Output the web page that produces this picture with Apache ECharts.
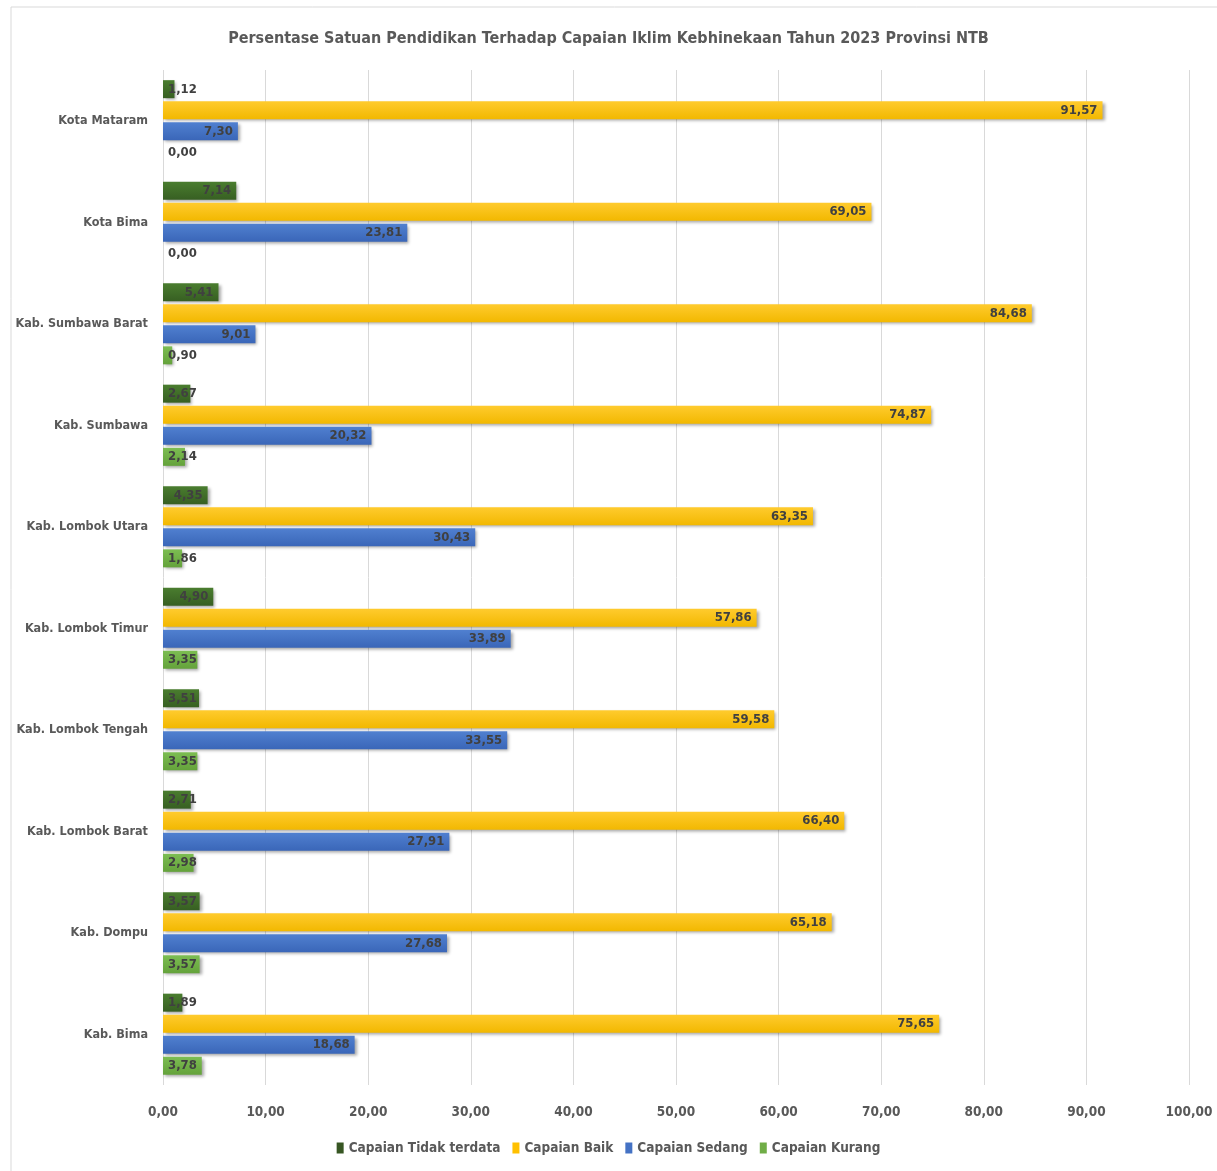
<!DOCTYPE html>
<html><head><meta charset="utf-8">
<script src="https://cdn.jsdelivr.net/npm/echarts@6/dist/echarts.min.js"></script>
<style>html,body{margin:0;padding:0;background:#fff}#c{width:1217px;height:1171px}</style>
</head><body><div id="c"></div>
<script>
const categories = ['Kota Mataram','Kota Bima','Kab. Sumbawa Barat','Kab. Sumbawa','Kab. Lombok Utara','Kab. Lombok Timur','Kab. Lombok Tengah','Kab. Lombok Barat','Kab. Dompu','Kab. Bima'];
const tidakTerdata = [1.12, 7.14, 5.41, 2.67, 4.35, 4.90, 3.51, 2.71, 3.57, 1.89];
const baik = [91.57, 69.05, 84.68, 74.87, 63.35, 57.86, 59.58, 66.40, 65.18, 75.65];
const sedang = [7.30, 23.81, 9.01, 20.32, 30.43, 33.89, 33.55, 27.91, 27.68, 18.68];
const kurang = [0.00, 0.00, 0.90, 2.14, 1.86, 3.35, 3.35, 2.98, 3.57, 3.78];
const seriesNames = ['Capaian Tidak terdata','Capaian Baik','Capaian Sedang','Capaian Kurang'];
const seriesColors = [['#4a7d2f','#375f22'],['#ffcb2e','#f2b800'],['#5080d0','#3a66b8'],['#7cbd52','#64a23b']];
const legendColors = ['#375623','#ffc000','#4472c4','#70ad47'];
const FONT = '"DejaVu Sans Condensed","Liberation Sans Narrow",sans-serif';
const fmt = v => v.toFixed(2).replace('.', ',');

function mk(name, vals, idx){
  return {
    name, type:'bar', barWidth:18, barGap:'17%',
    itemStyle:{
      color:{type:'linear',x:0,y:0,x2:0,y2:1,colorStops:[{offset:0,color:seriesColors[idx][0]},{offset:1,color:seriesColors[idx][1]}]},
      shadowBlur:3, shadowOffsetX:2, shadowOffsetY:2, shadowColor:'rgba(0,0,0,0.35)'
    },
    data: vals.map(v => ({
      value:v,
      label:{position: v < 4 ? 'insideLeft' : 'insideRight', distance: 5}
    })),
    label:{show:true, formatter:p=>fmt(p.value), color:'#404040', fontFamily:FONT, fontWeight:'bold', fontSize:13}
  };
}

const chart = echarts.init(document.getElementById('c'));
chart.setOption({
  animation:false,
  color: legendColors,
  title:{text:'Persentase Satuan Pendidikan Terhadap Capaian Iklim Kebhinekaan Tahun 2023 Provinsi NTB', left:'center', top:26,
    textStyle:{fontFamily:FONT, fontWeight:'bold', fontSize:16, color:'#595959'}},
  graphic:[{type:'rect', shape:{x:11,y:7,width:1230,height:1180}, style:{fill:null, stroke:'#d9d9d9', lineWidth:1}, silent:true}],
  legend:{bottom:11, left:'center', itemWidth:7, itemHeight:11, itemGap:12, icon:'rect',
    textStyle:{fontFamily:FONT, fontWeight:'bold', fontSize:13.5, color:'#595959'},
    data: seriesNames.map((n,i)=>({name:n, itemStyle:{color:legendColors[i]}}))},
  grid:{left:163, right:28, top:70, bottom:86, containLabel:false, outerBoundsMode:'none'},
  xAxis:{type:'value', min:0, max:100, interval:10,
    axisLine:{show:false}, axisTick:{show:false},
    splitLine:{lineStyle:{color:'#d9d9d9'}},
    axisLabel:{formatter:v=>fmt(v), margin:20, fontFamily:FONT, fontWeight:'bold', fontSize:13.5, color:'#595959'}},
  yAxis:{type:'category', data:categories, inverse:true,
    axisLine:{show:false}, axisTick:{show:false},
    axisLabel:{margin:15, fontFamily:FONT, fontWeight:'bold', fontSize:12.5, color:'#595959'}},
  series:[mk(seriesNames[0], tidakTerdata, 0), mk(seriesNames[1], baik, 1), mk(seriesNames[2], sedang, 2), mk(seriesNames[3], kurang, 3)]
});
</script></body></html>
